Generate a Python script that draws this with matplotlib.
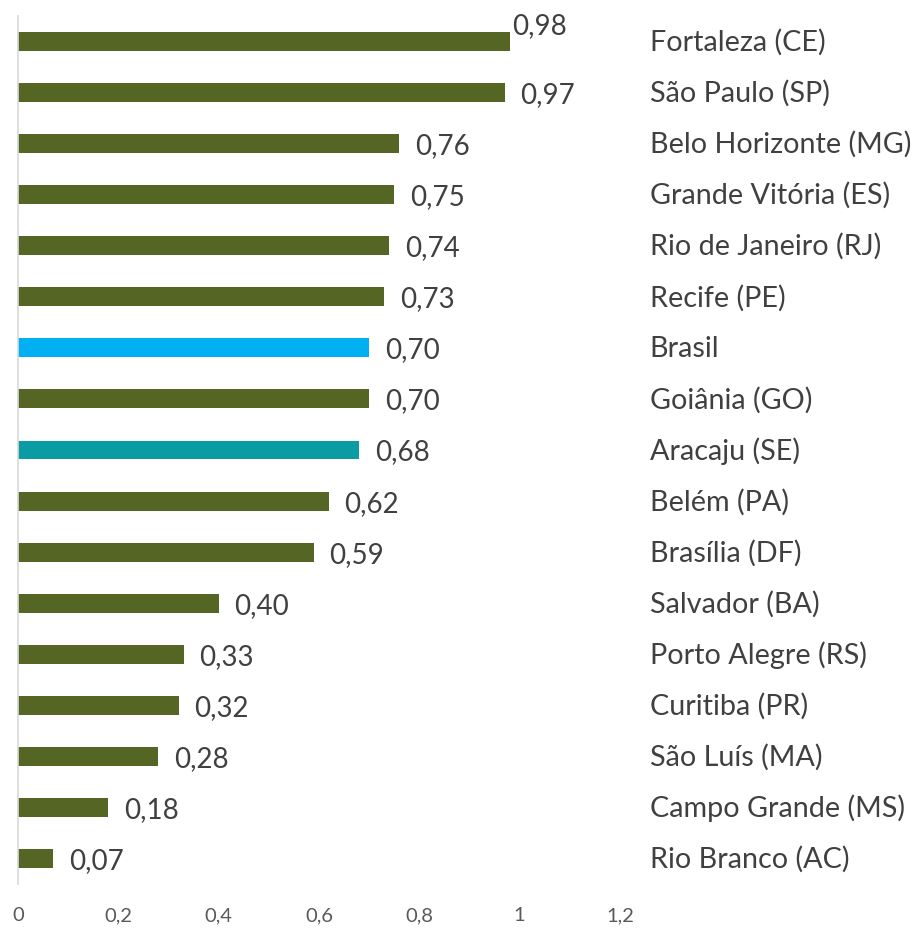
import matplotlib
matplotlib.use('Agg')
import matplotlib.pyplot as plt
import numpy as np

plt.rcParams['font.family'] = ['Lato', 'DejaVu Sans']

# --- data (top to bottom) ---
cities = ['Fortaleza (CE)', 'São Paulo (SP)', 'Belo Horizonte (MG)', 'Grande Vitória (ES)',
          'Rio de Janeiro (RJ)', 'Recife (PE)', 'Brasil', 'Goiânia (GO)', 'Aracaju (SE)',
          'Belém (PA)', 'Brasília (DF)', 'Salvador (BA)', 'Porto Alegre (RS)', 'Curitiba (PR)',
          'São Luís (MA)', 'Campo Grande (MS)', 'Rio Branco (AC)']
values = [0.98, 0.97, 0.76, 0.75, 0.74, 0.73, 0.70, 0.70, 0.68,
          0.62, 0.59, 0.40, 0.33, 0.32, 0.28, 0.18, 0.07]
xticks = [0, 0.2, 0.4, 0.6, 0.8, 1.0, 1.2]

OLIVE = '#556624'
colors = {'Brasil': '#00B0F0', 'Aracaju (SE)': '#0A9CA2'}
TEXT = '#404040'

fig = plt.figure(figsize=(9.19, 9.29), dpi=100)
ax = fig.add_axes([18 / 919, 1 - 885 / 929, 602 / 919, 868 / 929])

y = np.arange(len(cities))
bar_colors = [colors.get(c, OLIVE) for c in cities]
ax.barh(y, values, height=0.37, color=bar_colors)

ax.set_xlim(0, 1.2)
ax.set_ylim(len(cities) - 0.5, -0.5)

for i, (c, v) in enumerate(zip(cities, values)):
    if i == 0:
        # top label sits higher, right at the bar end
        ax.text(v + 0.005, i - 0.33, f'{v:.2f}'.replace('.', ','), ha='left', va='center',
                fontsize=20, color=TEXT)
    else:
        ax.text(v + 0.031, i + 0.03, f'{v:.2f}'.replace('.', ','), ha='left', va='center',
                fontsize=20, color=TEXT)
    ax.text(1.259, i, c, ha='left', va='center', fontsize=20.7, color=TEXT, clip_on=False)

ax.set_xticks(xticks)
ax.set_xticklabels([f'{t:g}'.replace('.', ',') for t in xticks], fontsize=14.5, color='#595959')
ax.tick_params(axis='x', length=0, pad=16)
ax.set_yticks([])
for s in ['top', 'right', 'bottom']:
    ax.spines[s].set_visible(False)
ax.spines['left'].set_color('#d9d9d9')
ax.spines['left'].set_linewidth(1.2)

fig.savefig('out.png', dpi=100, facecolor='white')
